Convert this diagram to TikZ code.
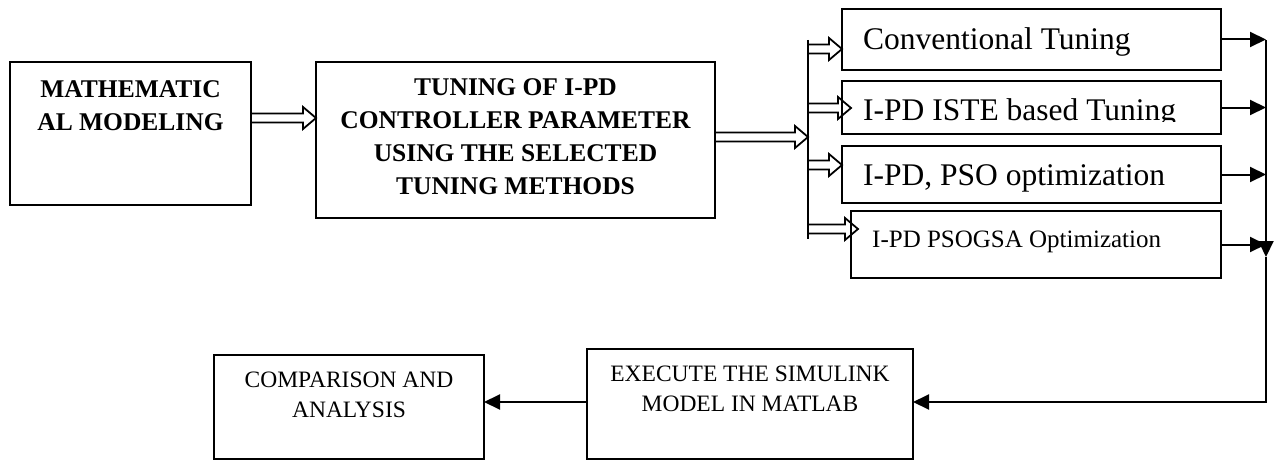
\documentclass[tikz,border=0pt]{standalone}
\usepackage{fontspec}
\setmainfont{Liberation Serif}
\usetikzlibrary{arrows.meta,positioning,calc}

\begin{document}
\begin{tikzpicture}[x=1pt, y=-1pt,
box/.style={draw=black, line width=2pt, inner sep=0pt, outer sep=0pt},
bigbold/.style={font=\fontsize{25.5}{33}\selectfont\bfseries, align=center, inner sep=0pt, anchor=north},
method/.style={font=\fontsize{31.5}{36}\selectfont, inner sep=0pt, anchor=base west},
smallmethod/.style={font=\fontsize{25}{30}\selectfont, inner sep=0pt, anchor=base west},
plain/.style={font=\fontsize{23.5}{29.5}\selectfont, align=center, inner sep=0pt, anchor=north},
wire/.style={draw=black, line width=2pt},
conn/.style={draw=black, line width=2pt, -{Triangle[length=16pt, width=15pt]}},
hollow/.style={draw=black, line width=1.8pt, to path={let \p1=(\tikztostart), \p2=(\tikztotarget) in
  (\x1,\y1+4.5pt) -- (\x2-13pt,\y1+4.5pt) -- (\x2-13pt,\y1+11pt) -- (\x2,\y1)
  -- (\x2-13pt,\y1-11pt) -- (\x2-13pt,\y1-4.5pt) -- (\x1,\y1-4.5pt) -- cycle}},
]
\useasboundingbox (0,0) rectangle (1280,460);

% blocks
\node[box, minimum width=241pt, minimum height=143pt] (model) at (130.5,133.5) {};
\node[box, minimum width=399pt, minimum height=156pt] (tuning) at (515.5,140) {};
\node[box, minimum width=379pt, minimum height=61pt] (conv) at (1031.5,39.5) {};
\node[box, minimum width=379pt, minimum height=53pt] (iste) at (1031.5,107.5) {};
\node[box, minimum width=379pt, minimum height=57pt] (pso) at (1031.5,174.5) {};
\node[box, minimum width=370pt, minimum height=67pt] (psogsa) at (1036,244.5) {};
\node[box, minimum width=326pt, minimum height=110pt] (exec) at (750,404) {};
\node[box, minimum width=270pt, minimum height=104pt] (comp) at (349,407) {};

% texts
\node[bigbold, below=18pt of model.north] (modeltxt) {MATHEMATIC\\AL MODELING};
\node[bigbold, below=16pt of tuning.north] (tuningtxt) {TUNING OF I-PD\\CONTROLLER PARAMETER\\USING THE SELECTED\\TUNING METHODS};
\node[method] (convtxt) at (863,50) {Conventional Tuning};
\coordinate (isteclip) at (1221,121.5);
\begin{scope}
  \clip (iste.north west) rectangle (isteclip);
  \node[method] (istetxt) at (863,120) {I-PD ISTE based Tuning};
\end{scope}
\node[method] (psotxt) at (863,185) {I-PD, PSO optimization};
\node[smallmethod] (psogsatxt) at (872,247) {I-PD PSOGSA Optimization};
\node[plain, below=17pt of exec.north] (exectxt) {EXECUTE THE SIMULINK\\MODEL IN MATLAB};
\node[plain, below=17pt of comp.north] (comptxt) {COMPARISON AND\\ANALYSIS};

% bus points
\coordinate (bustop) at (808,40);
\coordinate (busbot) at (808,239);
\coordinate (br1) at (808,49);
\coordinate (br2) at (808,108);
\coordinate (br3) at (808,165);
\coordinate (br4) at (808,229);
\coordinate (rtop) at (1266,40);
\coordinate (rdown) at (1266,257);
\coordinate (rbot) at (1266,402);

% hollow arrows
\draw[hollow] ([yshift=15.5pt]model.east) to ([yshift=15.5pt]model.east -| tuning.west);
\draw[hollow] ([yshift=3pt]tuning.east) to ([yshift=3pt]tuning.east -| bustop);
\draw[hollow] (br1) to (br1 -| conv.west);
\draw[hollow] (br2) to ([xshift=9pt]br2 -| iste.west);
\draw[hollow] (br3) to (br3 -| pso.west);
\draw[hollow] (br4) to ([xshift=7pt]br4 -| psogsa.west);
\draw[wire] (bustop) -- (busbot);

% outputs
\draw[conn] (conv.east) -- (conv.east -| rtop);
\draw[conn] (iste.east) -- (iste.east -| rtop);
\draw[conn] (pso.east) -- (pso.east -| rtop);
\draw[conn] (psogsa.east) -- (psogsa.east -| rtop);
\draw[conn] (rtop) -- (rdown);
\draw[conn] (rdown) -- (rbot) -- (rbot -| exec.east);
\draw[conn] (rbot -| exec.west) -- (rbot -| comp.east);
\end{tikzpicture}
\end{document}
